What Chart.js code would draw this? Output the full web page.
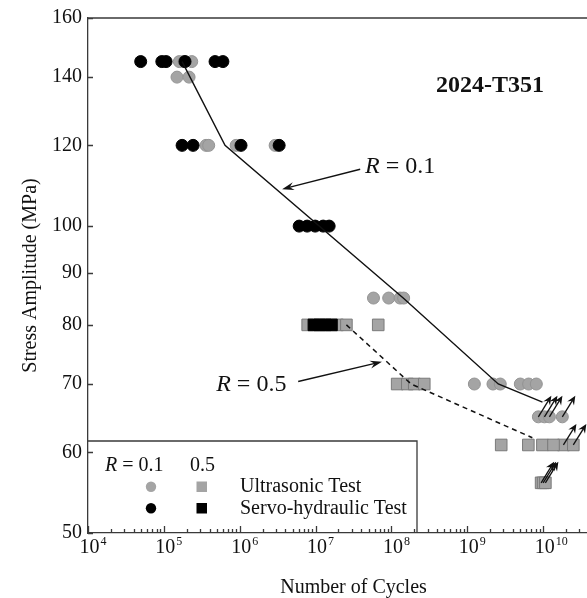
<!DOCTYPE html>
<html><head><meta charset="utf-8">
<script src="https://cdn.jsdelivr.net/npm/chart.js@4.4.1/dist/chart.umd.min.js"></script>
<style>
html,body{margin:0;padding:0;background:#fff;overflow:hidden;}
#wrap{width:634px;height:598px;position:relative;}
</style></head><body>
<div id="wrap"><canvas id="c"></canvas></div>
<script>
// ---- tick labels ----
const xTicks = [1e4, 1e5, 1e6, 1e7, 1e8, 1e9, 1e10, 1e11];
const xTickBase = '10';
const xTickExps = ['4', '5', '6', '7', '8', '9', '10', '11'];
const yTicks = [50, 60, 70, 80, 90, 100, 120, 140, 160];
const yTickLabels = ['50', '60', '70', '80', '90', '100', '120', '140', '160'];

// ---- R = 0.1, ultrasonic (gray circles) ----
const r01UltraN = [1.6e5, 1.85e5, 2.33e5, 1.49e5, 2.15e5, 3.6e5, 3.9e5, 8.97e5, 2.93e6,
                   5.8e7, 9.2e7, 1.3e8, 1.45e8, 1.24e9, 2.18e9, 2.72e9, 5.0e9, 6.44e9, 8.13e9];
const r01UltraS = [145, 145, 145, 140, 140, 120, 120, 120, 120,
                   85, 85, 85, 85, 70, 70, 70, 70, 70, 70];
// R = 0.1 ultrasonic run-outs
const r01RunN = [8.65e9, 1.04e10, 1.21e10, 1.79e10];
const r01RunS = [65, 65, 65, 65];

// ---- R = 0.1, servo-hydraulic (black circles) ----
const r01ServoN = [4.95e4, 9.4e4, 1.07e5, 1.9e5, 4.73e5, 6.0e5, 1.74e5, 2.43e5, 1.04e6, 3.31e6,
                   6.08e6, 7.75e6, 9.88e6, 1.26e7, 1.51e7];
const r01ServoS = [145, 145, 145, 145, 145, 145, 120, 120, 120, 120,
                   100, 100, 100, 100, 100];

// ---- R = 0.5, ultrasonic (gray squares) ----
const r05UltraN = [7.87e6, 1.94e7, 2.55e7, 6.7e7, 1.19e8, 1.62e8, 2.0e8, 2.71e8,
                   2.8e9, 6.38e9, 9.78e9, 1.37e10];
const r05UltraS = [80, 80, 80, 80, 70, 70, 70, 70, 61, 61, 61, 61];
// R = 0.5 ultrasonic run-outs
const r05RunN = [1.85e10, 2.5e10, 9.4e9, 1.0e10, 1.07e10];
const r05RunS = [61, 61, 56, 56, 56];

// ---- R = 0.5, servo-hydraulic (black squares) ----
const r05ServoN = [9.5e6, 1.135e7, 1.35e7, 1.62e7];
const r05ServoS = [80, 80, 80, 80];

// ---- S-N curves ----
const r01LineN = [1.74e5, 6.4e5, 1.43e8, 2.56e9, 9.8e9];
const r01LineS = [145, 120, 85, 70, 67.2];
const r05LineN = [2.55e7, 1.82e8, 7.2e9];
const r05LineS = [80, 70, 62];

const pts = (n, s) => n.map((v, i) => ({x: v, y: s[i]}));
const SERIF = '"Liberation Serif", "Times New Roman", serif';
const INK = '#111';
const AX = '#3a3a3a';
const GRAY = '#a4a4a4';

function drawArrow(ctx, x1, y1, x2, y2, head, half) {
  const a = Math.atan2(y2 - y1, x2 - x1), c = Math.cos(a), s = Math.sin(a);
  ctx.beginPath();
  ctx.moveTo(x1, y1);
  ctx.lineTo(x2 - head * 0.6 * c, y2 - head * 0.6 * s);
  ctx.stroke();
  ctx.beginPath();
  ctx.moveTo(x2, y2);
  ctx.lineTo(x2 - head * c + half * s, y2 - head * s - half * c);
  ctx.lineTo(x2 - head * 0.65 * c, y2 - head * 0.65 * s);
  ctx.lineTo(x2 - head * c - half * s, y2 - head * s + half * c);
  ctx.closePath();
  ctx.fill();
}

function drawRLabel(ctx, x, y, rest, size) {
  ctx.textAlign = 'left';
  ctx.textBaseline = 'middle';
  ctx.font = 'italic ' + size + 'px ' + SERIF;
  ctx.fillText('R', x, y);
  const w = ctx.measureText('R').width;
  ctx.font = size + 'px ' + SERIF;
  ctx.fillText(rest, x + w, y);
}

const decor = {
  id: 'decor',
  afterDatasetsDraw(chart) {
    const ctx = chart.ctx, xs = chart.scales.x, ys = chart.scales.y, ca = chart.chartArea;
    const X = v => xs.getPixelForValue(v), Y = v => ys.getPixelForValue(v);
    ctx.save();
    ctx.strokeStyle = INK; ctx.fillStyle = INK;

    // run-out arrows
    ctx.lineWidth = 1.3;
    chart.data.datasets.forEach(ds => {
      if (!ds.runout) return;
      ds.data.forEach(p => {
        const px = X(p.x), py = Y(p.y);
        drawArrow(ctx, px, py, px + 13, py - 21, 9, 4);
      });
    });

    // annotations
    ctx.lineWidth = 1.3;
    drawArrow(ctx, X(3.87e7), Y(113.7), X(3.62e6), Y(108.7), 12, 4);
    drawArrow(ctx, X(5.9e6), Y(70.4), X(7.5e7), Y(73.6), 12, 4);
    ctx.fillStyle = INK;
    drawRLabel(ctx, X(4.5e7), Y(114.3), ' = 0.1', 24);
    drawRLabel(ctx, X(4.9e5), Y(69.9), ' = 0.5', 24);
    ctx.font = 'bold 24px ' + SERIF;
    ctx.textAlign = 'center'; ctx.textBaseline = 'middle';
    ctx.fillText('2024-T351', X(2.0e9), Y(137.4));

    // legend box
    const L = ca.left, B = ca.bottom;
    ctx.fillStyle = '#fff';
    ctx.fillRect(L + 1, B - 92, 328, 91);
    ctx.strokeStyle = AX; ctx.lineWidth = 1.3;
    ctx.beginPath();
    ctx.moveTo(L, B - 92); ctx.lineTo(L + 329, B - 92); ctx.lineTo(L + 329, B);
    ctx.stroke();
    ctx.fillStyle = INK;
    drawRLabel(ctx, L + 17, B - 67, ' = 0.1', 20);
    ctx.font = '20px ' + SERIF;
    ctx.textAlign = 'left'; ctx.textBaseline = 'middle';
    ctx.fillText('0.5', L + 102, B - 67);
    ctx.fillText('Ultrasonic Test', L + 152, B - 46);
    ctx.fillText('Servo-hydraulic Test', L + 152, B - 24.5);
    ctx.fillStyle = GRAY;
    ctx.beginPath(); ctx.arc(L + 63, B - 46.3, 5.2, 0, Math.PI * 2); ctx.fill();
    ctx.fillRect(L + 108.5, B - 51.5, 10.5, 10.5);
    ctx.fillStyle = '#000';
    ctx.beginPath(); ctx.arc(L + 63, B - 24.7, 5.2, 0, Math.PI * 2); ctx.fill();
    ctx.fillRect(L + 108.5, B - 30, 10.5, 10.5);

    // x tick labels (10 with superscript exponent)
    ctx.fillStyle = INK;
    ctx.textBaseline = 'alphabetic';
    xTicks.forEach((v, i) => {
      const px = X(v);
      ctx.font = '20px ' + SERIF;
      ctx.textAlign = 'center';
      const bw = ctx.measureText(xTickBase).width;
      ctx.fillText(xTickBase, px + 1.5, ca.bottom + 20);
      ctx.font = '12px ' + SERIF;
      ctx.textAlign = 'left';
      ctx.fillText(xTickExps[i], px + 1.5 + bw / 2 + 1, ca.bottom + 12);
    });

    // frame + inward ticks
    ctx.strokeStyle = AX; ctx.lineWidth = 1.3;
    ctx.beginPath();
    ctx.moveTo(ca.left, ca.top); ctx.lineTo(ca.right, ca.top); ctx.lineTo(ca.right, ca.bottom);
    for (let d = 4; d <= 10; d++) {
      for (let k = 1; k <= 9; k++) {
        const v = k * Math.pow(10, d);
        const px = Math.round(X(v)) + 0.5;
        ctx.moveTo(px, ca.bottom);
        ctx.lineTo(px, ca.bottom - (k === 1 ? 7 : 4));
      }
    }
    yTicks.forEach(v => {
      const py = Math.round(Y(v)) + 0.5;
      ctx.moveTo(ca.left, py); ctx.lineTo(ca.left + 5, py);
    });
    ctx.stroke();
    ctx.restore();
  }
};

const grayCircle = {pointStyle: 'circle', pointRadius: 6, pointBackgroundColor: GRAY,
  pointBorderColor: '#939393', pointBorderWidth: 1, showLine: false, order: 3};
const blackCircle = {pointStyle: 'circle', pointRadius: 6, pointBackgroundColor: '#000',
  pointBorderColor: '#000', pointBorderWidth: 1, showLine: false, order: 2};
const graySquare = {pointStyle: 'rect', pointRadius: 8.2, pointBackgroundColor: GRAY,
  pointBorderColor: '#7a7a7a', pointBorderWidth: 1, showLine: false, order: 3};
const blackSquare = {pointStyle: 'rect', pointRadius: 8.2, pointBackgroundColor: '#000',
  pointBorderColor: '#000', pointBorderWidth: 1, showLine: false, order: 2};

new Chart(document.getElementById('c'), {
  type: 'scatter',
  data: {
    datasets: [
      Object.assign({label: 'R=0.1 ultrasonic', data: pts(r01UltraN, r01UltraS)}, grayCircle),
      Object.assign({label: 'R=0.1 ultrasonic run-out', data: pts(r01RunN, r01RunS), runout: true}, grayCircle),
      Object.assign({label: 'R=0.5 ultrasonic', data: pts(r05UltraN, r05UltraS)}, graySquare),
      Object.assign({label: 'R=0.5 ultrasonic run-out', data: pts(r05RunN, r05RunS), runout: true}, graySquare),
      Object.assign({label: 'R=0.1 servo-hydraulic', data: pts(r01ServoN, r01ServoS)}, blackCircle),
      Object.assign({label: 'R=0.5 servo-hydraulic', data: pts(r05ServoN, r05ServoS)}, blackSquare),
      {label: 'R=0.1 curve', data: pts(r01LineN, r01LineS), showLine: true, pointRadius: 0,
        borderColor: '#111', borderWidth: 1.4, order: 1},
      {label: 'R=0.5 curve', data: pts(r05LineN, r05LineS), showLine: true, pointRadius: 0,
        borderColor: '#111', borderWidth: 1.5, borderDash: [5, 4], order: 1}
    ]
  },
  options: {
    responsive: true,
    maintainAspectRatio: false,
    animation: false,
    devicePixelRatio: 1,
    layout: {padding: {top: 18, right: 15, bottom: 0, left: 0}},
    plugins: {legend: {display: false}, tooltip: {enabled: false}},
    scales: {
      x: {
        type: 'logarithmic', position: 'bottom', min: 1e4, max: 1e11,
        afterBuildTicks: s => { s.ticks = xTicks.map(v => ({value: v, major: true})); },
        afterFit: s => { s.height = 65; },
        ticks: {display: false, autoSkip: false, maxRotation: 0},
        grid: {display: false, drawTicks: false},
        border: {display: true, color: AX, width: 1.3},
        title: {display: true, text: 'Number of Cycles', color: INK,
          font: {family: SERIF, size: 20, lineHeight: 1.0}, padding: {top: 0, bottom: 0}}
      },
      y: {
        type: 'logarithmic', position: 'left', min: 50, max: 160,
        afterBuildTicks: s => { s.ticks = yTicks.map(v => ({value: v, major: true})); },
        afterFit: s => { s.width = 88; },
        ticks: {callback: (v, i) => yTickLabels[i], autoSkip: false, padding: 6, color: INK,
          font: {family: SERIF, size: 20, lineHeight: 1}},
        grid: {display: false, drawTicks: false},
        border: {display: true, color: AX, width: 1.3},
        title: {display: true, text: 'Stress Amplitude (MPa)', color: INK,
          font: {family: SERIF, size: 20, lineHeight: 1.2}, padding: {top: 19, bottom: 0}}
      }
    }
  },
  plugins: [decor]
});
</script>
</body></html>
